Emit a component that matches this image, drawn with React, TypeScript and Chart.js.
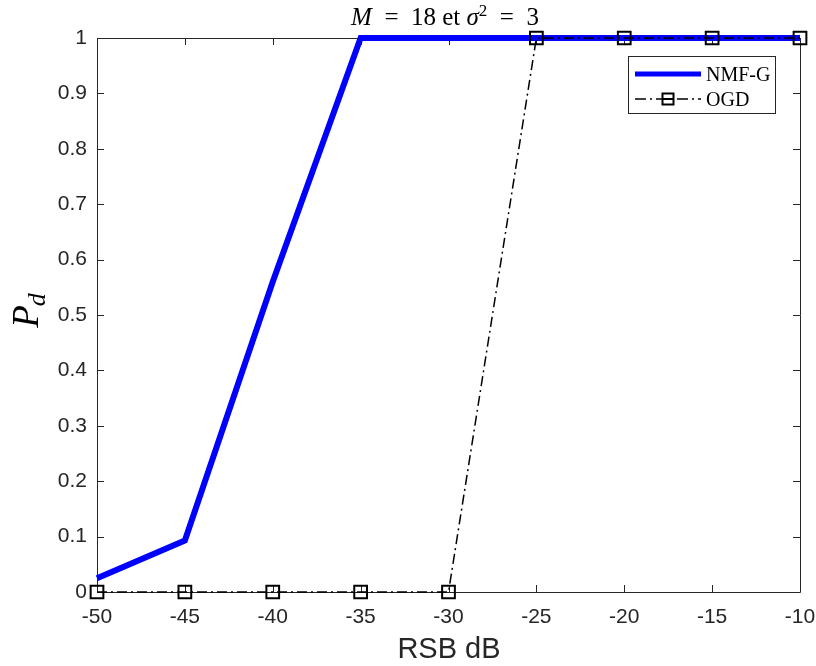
import React, { useEffect, useRef } from "react";
import { Chart, registerables } from "chart.js";

Chart.register(...registerables);

const rsb = [-50, -45, -40, -35, -30, -25, -20, -15, -10];
const nmfG = [0.025, 0.093, 0.56, 1, 1, 1, 1, 1, 1];
const ogd = [0, 0, 0, 0, 0, 1, 1, 1, 1];
const xTicks = [-50, -45, -40, -35, -30, -25, -20, -15, -10];
const yTicks = [0, 0.1, 0.2, 0.3, 0.4, 0.5, 0.6, 0.7, 0.8, 0.9, 1];
const seriesNames = ["NMF-G", "OGD"];
const xTitle = "RSB dB";

const AXIS = "#262626";
const SANS = "Arial, 'Liberation Sans', Helvetica, sans-serif";
const SERIF = "'Liberation Serif', 'Times New Roman', serif";

const decor = {
  id: "decor",
  beforeDatasetsDraw(chart: any) {
    const { ctx, chartArea: a, scales } = chart;
    ctx.save();
    ctx.strokeStyle = AXIS;
    ctx.lineWidth = 1;
    ctx.beginPath();
    ctx.rect(Math.round(a.left) + 0.5, Math.round(a.top) + 0.5, Math.round(a.right - a.left), Math.round(a.bottom - a.top));
    ctx.stroke();
    const tl = 7;
    ctx.beginPath();
    xTicks.forEach((v) => {
      const px = Math.round(scales.x.getPixelForValue(v)) + 0.5;
      ctx.moveTo(px, a.bottom);
      ctx.lineTo(px, a.bottom - tl);
      ctx.moveTo(px, a.top);
      ctx.lineTo(px, a.top + tl);
    });
    yTicks.forEach((v) => {
      const py = Math.round(scales.y.getPixelForValue(v)) + 0.5;
      ctx.moveTo(a.left, py);
      ctx.lineTo(a.left + tl, py);
      ctx.moveTo(a.right, py);
      ctx.lineTo(a.right - tl, py);
    });
    ctx.stroke();
    ctx.restore();
  },
  afterDraw(chart: any) {
    const { ctx } = chart;
    ctx.save();
    // Title: M = 18 et σ² = 3
    const fs = 25;
    const parts: [string, string, number][] = [
      ["M", `italic ${fs}px ${SERIF}`, 0],
      ["  =  18 et ", `${fs}px ${SERIF}`, 0],
      ["σ", `italic ${fs}px ${SERIF}`, 0],
      ["2", `${Math.round(fs * 0.68)}px ${SERIF}`, -9],
      ["  =  3", `${fs}px ${SERIF}`, 0],
    ];
    let total = 0;
    parts.forEach(([t, f]) => {
      ctx.font = f;
      total += ctx.measureText(t).width;
    });
    let x = 445 - total / 2;
    ctx.fillStyle = "#000";
    ctx.textBaseline = "alphabetic";
    ctx.textAlign = "left";
    parts.forEach(([t, f, dy]) => {
      ctx.font = f;
      ctx.fillText(t, x, 25 + dy);
      x += ctx.measureText(t).width;
    });

    // X title
    ctx.fillStyle = AXIS;
    ctx.font = `29px ${SANS}`;
    ctx.textAlign = "center";
    ctx.fillText(xTitle, 449, 658);

    // Y title P_d
    ctx.save();
    ctx.translate(38, 0);
    ctx.rotate(-Math.PI / 2);
    ctx.fillStyle = "#000";
    ctx.textAlign = "left";
    ctx.font = `italic 37px ${SERIF}`;
    const pw = ctx.measureText("P").width;
    ctx.font = `italic 26px ${SERIF}`;
    const dw = ctx.measureText("d").width;
    const start = -(310 + (pw + dw) / 2);
    ctx.font = `italic 37px ${SERIF}`;
    ctx.fillText("P", start, 0);
    ctx.font = `italic 26px ${SERIF}`;
    ctx.fillText("d", start + pw - 1, 7);
    ctx.restore();

    // Legend
    const lx = 628, ly = 56, lw = 147, lh = 57;
    ctx.fillStyle = "#fff";
    ctx.fillRect(lx, ly, lw, lh);
    ctx.strokeStyle = AXIS;
    ctx.lineWidth = 1;
    ctx.strokeRect(lx + 0.5, ly + 0.5, lw, lh);
    ctx.strokeStyle = "#0000ff";
    ctx.lineWidth = 5;
    ctx.beginPath();
    ctx.moveTo(635, 74);
    ctx.lineTo(701, 74);
    ctx.stroke();
    ctx.strokeStyle = "#000";
    ctx.lineWidth = 1.5;
    ctx.setLineDash([11, 4, 2, 4]);
    ctx.beginPath();
    ctx.moveTo(635, 99);
    ctx.lineTo(701, 99);
    ctx.stroke();
    ctx.setLineDash([]);
    ctx.lineWidth = 2;
    ctx.strokeRect(662.5, 93.5, 11, 11);
    ctx.beginPath();
    ctx.moveTo(662.5, 99);
    ctx.lineTo(673.5, 99);
    ctx.stroke();
    ctx.fillStyle = "#000";
    ctx.font = `20px ${SERIF}`;
    ctx.textAlign = "left";
    ctx.textBaseline = "alphabetic";
    ctx.fillText(seriesNames[0], 706, 81);
    ctx.fillText(seriesNames[1], 706, 106);
    ctx.restore();
  },
};

export default function App() {
  const ref = useRef<HTMLCanvasElement>(null);
  useEffect(() => {
    if (!ref.current) return;
    const chart = new Chart(ref.current, {
      type: "line",
      data: {
        datasets: [
          {
            label: seriesNames[1],
            data: rsb.map((x, i) => ({ x, y: ogd[i] })),
            borderColor: "#000",
            borderWidth: 1.5,
            borderDash: [10, 4, 2, 4],
            pointStyle: "rect",
            pointRadius: 9,
            pointBorderWidth: 2,
            pointBackgroundColor: "rgba(0,0,0,0)",
            pointBorderColor: "#000",
            fill: false,
            tension: 0,
            clip: false,
            order: 0,
          },
          {
            label: seriesNames[0],
            data: rsb.map((x, i) => ({ x, y: nmfG[i] })),
            borderColor: "#0000ff",
            borderWidth: 6,
            pointRadius: 0,
            fill: false,
            tension: 0,
            clip: false,
            order: 1,
          },
        ],
      },
      options: {
        animation: false,
        responsive: false,
        devicePixelRatio: 1,
        layout: { padding: { left: 0, top: 38, right: 16, bottom: 0 } },
        plugins: { legend: { display: false }, title: { display: false }, tooltip: { enabled: false } },
        scales: {
          x: {
            type: "linear",
            min: -50,
            max: -10,
            afterFit: (s: any) => { s.height = 74; s.paddingLeft = 0; s.paddingRight = 0; },
            afterBuildTicks: (s: any) => { s.ticks = xTicks.map((v) => ({ value: v })); },
            ticks: { color: AXIS, font: { family: SANS, size: 21 }, padding: 13, maxRotation: 0, autoSkip: false },
            grid: { display: false, drawTicks: false },
            border: { display: false },
          },
          y: {
            type: "linear",
            min: 0,
            max: 1,
            afterFit: (s: any) => { s.width = 97; s.paddingTop = 0; s.paddingBottom = 0; },
            afterBuildTicks: (s: any) => { s.ticks = yTicks.map((v) => ({ value: v })); },
            ticks: {
              color: AXIS,
              font: { family: SANS, size: 21 },
              padding: 10,
              autoSkip: false,
              callback: (v: any) => String(Number(Number(v).toFixed(1))),
            },
            grid: { display: false, drawTicks: false },
            border: { display: false },
          },
        },
      },
      plugins: [decor],
    });
    return () => chart.destroy();
  }, []);
  return (
    <div style={{ position: "absolute", left: 0, top: 0, width: 816, height: 666, background: "#fff" }}>
      <canvas ref={ref} width={816} height={666} style={{ display: "block", width: 816, height: 666 }} />
    </div>
  );
}
